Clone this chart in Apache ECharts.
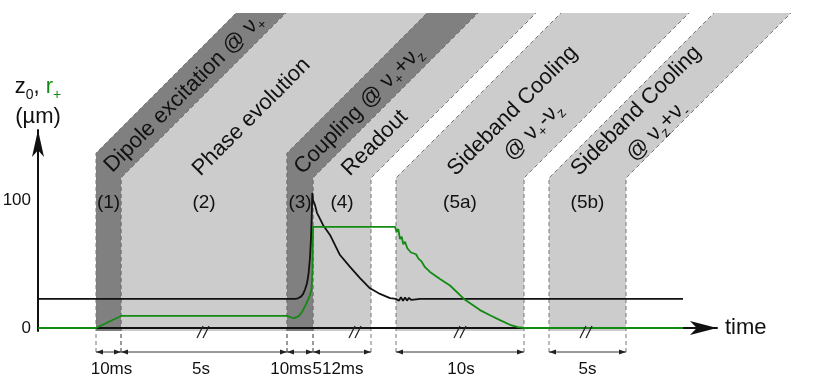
<!DOCTYPE html>
<html>
<head>
<meta charset="utf-8">
<script src="https://cdn.jsdelivr.net/npm/echarts@6.0.0/dist/echarts.min.js"></script>
<style>
  html, body { margin: 0; padding: 0; background: #fff; }
  #chart { width: 830px; height: 383px; }
</style>
</head>
<body>
<div id="chart"></div>
<script>
// schematic time axis (arb. units), amplitude in um
var bandStart = [58, 83, 249, 275, 358, 511];
var bandEnd = [83, 249, 275, 333, 486, 588];
var bandDark = [1, 0, 1, 0, 0, 0];
var bandTags = ['(1)', '(2)', '(3)', '(4)', '(5a)', '(5b)'];
var bandTimes = ['10ms', '5s', '10ms', '512ms', '10s', '5s'];
var bandTitles = [
  'Dipole excitation @ ν{s|+}',
  'Phase evolution',
  'Coupling @ ν{s|+}+ν{s|z}',
  'Readout',
  'Sideband Cooling\n@ ν{s|+}-ν{s|z}',
  'Sideband Cooling\n@ ν{s|z}+ν{s|-}'
];
var breakTimes = [165, 317, 422, 548];
var yTicks = [0, 100];

var z0Data = [
  [0, 22.7], [257, 22.7], [260, 23.2], [263, 24.5], [265, 26.5], [267, 30], [269, 35],
  [270.5, 42], [272, 55], [273, 70], [273.8, 90], [274.3, 105.5], [275, 100], [277, 96],
  [279, 90], [285, 80.5], [292, 72.7], [302, 57], [312, 47.7], [322, 39], [332, 31],
  [342, 26.6], [352, 23.4], [358, 22.7], [361, 21.4], [363, 24], [365, 21.2], [367, 23.8],
  [369, 21.4], [371, 23.6], [373, 22], [375, 23.3], [378, 22.4], [382, 22.7], [645, 22.7]
];
var rPlusData = [
  [0, 0], [58, 0], [83, 9.4], [249, 9.4], [252, 8.6], [255, 7.8], [258, 8.2], [261, 9.5],
  [264, 12.5], [267, 17], [270, 22], [272, 25.8], [273.5, 30], [274.5, 45], [275, 79],
  [357, 79], [358.7, 75.2], [360.3, 77.3], [362, 69.5], [363.7, 71.3], [365.3, 65.4],
  [367, 67.4], [369.3, 62.3], [371, 63.5], [373, 59], [375.3, 58.4], [378, 57.6],
  [380.3, 54.4], [383.7, 51.8], [387, 47.5], [392, 43.8], [402, 38.3], [412, 33.2],
  [427, 22], [442, 14], [452, 10], [462, 6.2], [472, 2.5], [480, 0.7], [486, 0], [645, 0]
];

var Y_MIN = -2.34, Y_MAX = 154.69;
var BAND_TOP = 246.1, BEND_HIGH = 136.7, BEND_LOW = 117.2, TAG_LEVEL = 97.7;
var labelY = [93, 117, 110, 143, 121, 121];
var labelDx = [3, -1, 3, -2, 6, 2];
var timeDx = [3, -3, -9, -4, 1, 0];

var FONT = 'Liberation Sans, Arial, sans-serif';
var dashColor = '#777';

function renderBand(params, api) {
  var i = params.dataIndex;
  var xl = api.coord([api.value(0), 0])[0];
  var xr = api.coord([api.value(1), 0])[0];
  var yA = api.coord([0, Y_MIN])[1];
  var yT = api.coord([0, BAND_TOP])[1];
  var yHi = api.coord([0, BEND_HIGH])[1];
  var yLo = api.coord([0, BEND_LOW])[1];
  var yDim = yA + 21;
  var nextDark = i + 1 < bandStart.length && bandStart[i + 1] === bandEnd[i] && bandDark[i + 1];
  var yl = bandDark[i] ? yHi : yLo;
  var yr = nextDark ? yHi : yLo;
  var fill = bandDark[i] ? '#808080' : '#cccccc';
  var children = [];
  children.push({
    type: 'polygon',
    shape: { points: [[xl, yA], [xl, yl], [xl + yl - yT, yT], [xr + yr - yT, yT], [xr, yr], [xr, yA]] },
    style: { fill: fill },
    z2: 0
  });
  [[xl, yl], [xr, yr]].forEach(function (e) {
    children.push({
      type: 'polyline',
      shape: { points: [[e[0], yDim], [e[0], e[1]], [e[0] + e[1] - yT, yT]] },
      style: { stroke: dashColor, lineWidth: 1, lineDash: [4, 3], fill: null },
      z2: 1
    });
  });
  // duration arrows
  children.push({
    type: 'line',
    shape: { x1: xl, y1: yDim, x2: xr, y2: yDim },
    style: { stroke: '#333', lineWidth: 1 },
    z2: 2
  });
  children.push({
    type: 'polygon',
    shape: { points: [[xl, yDim], [xl + 7, yDim - 2.5], [xl + 7, yDim + 2.5]] },
    style: { fill: '#222' }, z2: 3
  });
  children.push({
    type: 'polygon',
    shape: { points: [[xr, yDim], [xr - 7, yDim - 2.5], [xr - 7, yDim + 2.5]] },
    style: { fill: '#222' }, z2: 3
  });
  children.push({
    type: 'text',
    x: (xl + xr) / 2 + timeDx[i], y: yDim + 9,
    style: { text: bandTimes[i], font: '17px ' + FONT, fill: '#111', align: 'center', verticalAlign: 'top' },
    z2: 3
  });
  // tag
  var yTag = api.coord([0, TAG_LEVEL])[1];
  children.push({
    type: 'text',
    x: (xl + xr) / 2, y: yTag,
    style: { text: bandTags[i], font: '19px ' + FONT, fill: '#111', align: 'center', verticalAlign: 'middle' },
    z2: 3
  });
  // slanted title
  var ly = labelY[i];
  var cx = ((xl + yl - ly) + (xr + yr - ly)) / 2 + labelDx[i];
  children.push({
    type: 'text',
    x: cx, y: ly,
    rotation: Math.PI / 4,
    style: {
      text: bandTitles[i],
      fontSize: 22, fontFamily: FONT, lineHeight: 29, fill: '#111',
      align: 'center', verticalAlign: 'middle',
      rich: {
        s: { fontSize: 14, fontFamily: FONT, lineHeight: 16, verticalAlign: 'bottom', fill: '#111' }
      }
    },
    z2: 4
  });
  return { type: 'group', children: children };
}

function renderBreak(params, api) {
  var p = api.coord([api.value(0), Y_MIN]);
  var kids = [-3, 3].map(function (off) {
    return {
      type: 'line',
      shape: { x1: p[0] + off - 3, y1: p[1] + 7, x2: p[0] + off + 3, y2: p[1] - 5 },
      style: { stroke: '#222', lineWidth: 1.3 }
    };
  });
  return { type: 'group', children: kids };
}

var chart = echarts.init(document.getElementById('chart'));
chart.setOption({
  animation: false,
  backgroundColor: '#fff',
  textStyle: { fontFamily: FONT },
  grid: { left: 38, right: 113, top: 130, bottom: 52, containLabel: false, outerBoundsMode: 'none' },
  xAxis: {
    type: 'value', min: 0, max: 679,
    name: 'time', nameLocation: 'end', nameGap: 8,
    nameTextStyle: { fontSize: 22, color: '#111', fontFamily: FONT },
    axisLine: { lineStyle: { color: '#111', width: 2 }, symbol: ['none', 'arrow'], symbolSize: [10.5, 27] },
    axisTick: { show: false }, axisLabel: { show: false }, splitLine: { show: false }
  },
  yAxis: {
    type: 'value', min: Y_MIN, max: Y_MAX,
    name: '{a|z}{s|0}{a|, }{g|r}{gs|+}\n{a|(µm)}',
    nameLocation: 'end', nameGap: -2,
    nameTextStyle: {
      align: 'center',
      rich: {
        a: { fontSize: 22, lineHeight: 30, color: '#111', fontFamily: FONT },
        s: { fontSize: 14, lineHeight: 16, verticalAlign: 'bottom', color: '#111', fontFamily: FONT },
        g: { fontSize: 22, lineHeight: 30, color: '#138a13', fontFamily: FONT },
        gs: { fontSize: 14, lineHeight: 16, verticalAlign: 'bottom', color: '#138a13', fontFamily: FONT }
      }
    },
    axisLine: { lineStyle: { color: '#111', width: 2 }, symbol: ['none', 'arrow'], symbolSize: [9, 27] },
    axisTick: { show: false },
    splitLine: { show: false },
    axisLabel: { customValues: yTicks, fontSize: 17, color: '#111', margin: 7, fontFamily: FONT }
  },
  series: [
    {
      type: 'custom', z: -1, clip: false, silent: true,
      data: bandStart.map(function (s, i) { return [s, bandEnd[i]]; }),
      encode: { x: [0, 1] },
      renderItem: renderBand
    },
    {
      type: 'custom', z: 5, clip: false, silent: true,
      data: breakTimes.map(function (t) { return [t]; }),
      encode: { x: 0 },
      renderItem: renderBreak
    },
    {
      name: 'z0', type: 'line', data: z0Data, showSymbol: false, z: 3,
      lineStyle: { color: '#111', width: 1.8 }
    },
    {
      name: 'r+', type: 'line', data: rPlusData, showSymbol: false, z: 4,
      lineStyle: { color: '#138a13', width: 1.8 }
    }
  ]
});
</script>
</body>
</html>
